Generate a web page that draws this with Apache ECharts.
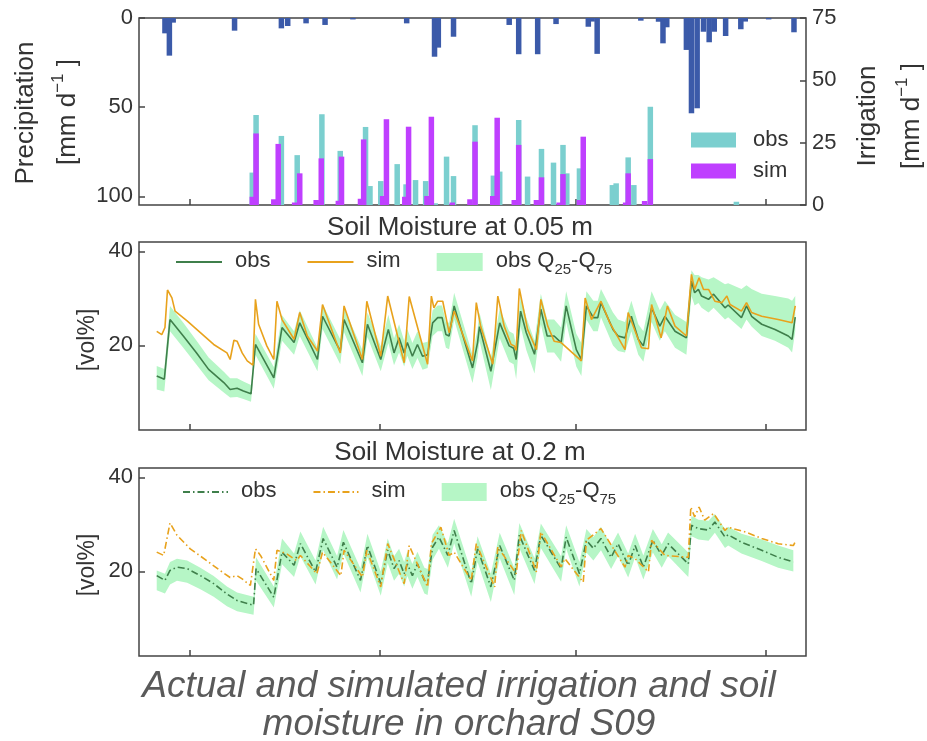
<!DOCTYPE html>
<html>
<head>
<meta charset="utf-8">
<title>Irrigation and soil moisture, orchard S09</title>
<script src="https://cdn.jsdelivr.net/npm/echarts@6/dist/echarts.min.js"></script>
<style>
  html, body { margin: 0; padding: 0; background: #fff; }
  #chart { width: 927px; height: 741px; }
</style>
</head>
<body>
<div id="chart"></div>
<script>
// x = day index counted from the left frame
var xTicks = [8, 38, 69, 99];

// precipitation [mm d-1], left axis (inverted)
var precipDays = [4.1, 4.8, 5.4, 15.1, 22.5, 23.5, 26.4, 29.4, 33.8, 42.3, 46.7, 47.3, 49.7, 58.5, 60.0, 63.0, 65.9, 71.0, 71.6, 72.4,
  79.3, 82.1, 82.8, 83.4, 86.5, 87.3, 88.2, 89.2, 90.1, 90.9, 92.7, 95.1, 95.8, 99.5, 103.5];
var precipVals = [8.6, 21.1, 2.6, 7.1, 5.8, 4.5, 3.0, 3.9, 0.8, 3.0, 21.7, 16.6, 10.5, 3.9, 20.3, 20.3, 3.4, 4.9, 2.0, 20.1,
  1.5, 2.1, 14.2, 5.2, 17.9, 53.4, 50.6, 7.7, 13.6, 7.7, 10.1, 6.3, 2.0, 0.8, 8.0];

// irrigation [mm d-1], right axis
var irrObsDays = [17.9, 18.5, 22.5, 25.0, 28.9, 31.8, 35.8, 36.5, 38.2, 40.8, 42.2, 43.7, 45.3, 46.8, 48.6, 49.7,
  53.1, 56.0, 57.0, 60.0, 61.4, 63.6, 65.5, 67.0, 67.6, 69.6, 74.8, 75.4, 77.3, 78.2, 80.8, 94.4];
var irrObsVals = [13.0, 36.1, 27.7, 20.0, 36.4, 21.7, 31.3, 7.6, 9.6, 16.4, 8.3, 10.0, 9.6, 0.7, 19.4, 11.6,
  32.0, 11.8, 13.4, 34.1, 11.4, 22.5, 17.0, 24.1, 12.7, 14.7, 8.0, 8.7, 19.1, 8.0, 39.4, 1.3];
var irrSimDays = [17.9, 18.5, 21.3, 22.0, 24.6, 25.4, 28.0, 28.8, 31.5, 32.0, 35.0, 35.5, 38.5, 39.1, 42.0, 42.6, 45.5, 46.2,
  49.5, 52.3, 53.1, 55.9, 56.6, 59.3, 60.0, 62.8, 63.6, 66.4, 67.0, 69.6, 70.2, 76.9, 77.3, 79.9, 80.8];
var irrSimVals = [3.3, 28.7, 2.3, 24.5, 1.0, 12.7, 2.0, 18.7, 1.7, 19.4, 2.5, 26.3, 3.6, 34.4, 3.3, 31.4, 3.6, 35.4,
  1.0, 2.3, 25.4, 3.6, 35.0, 2.0, 24.1, 2.0, 11.1, 1.0, 12.4, 2.0, 27.4, 1.0, 12.7, 1.6, 18.4];

// soil moisture at 0.05 m [vol%]
var obsDays05 = [2.8, 4.0, 4.9, 7.0, 9.1, 11.0, 13.4, 14.4, 15.5, 16.5, 17.7, 18.4, 21.3, 22.6, 24.5, 25.4, 28.2, 29.0, 31.8, 32.4,
  35.3, 36.1, 38.2, 39.4, 40.3, 41.1, 41.9, 42.4, 43.2, 44.0, 44.8, 45.6, 46.4, 47.2, 47.9, 48.5, 49.0, 49.8, 52.7, 53.5,
  53.8, 55.6, 57.0, 58.5, 59.2, 59.6, 60.3, 61.2, 62.5, 63.5, 64.5, 65.6, 66.7, 67.5, 69.1, 69.9, 70.7, 71.8, 72.5, 73.0,
  74.9, 75.7, 76.8, 77.8, 78.9, 79.7, 81.0, 82.3, 83.1, 84.7, 86.5, 87.3, 87.8, 88.4, 88.9, 90.0, 90.8, 92.6, 93.1, 95.2,
  96.0, 96.8, 98.4, 100.5, 102.6, 103.2, 103.7];
var obs05 = [13.5, 12.8, 25.5, 22.0, 18.4, 14.9, 12.1, 10.6, 10.9, 10.3, 9.7, 20.2, 13.1, 23.8, 20.6, 24.8, 17.0, 26.2, 18.8, 25.5,
  16.3, 24.5, 17.0, 23.4, 18.4, 21.6, 18.4, 20.6, 17.7, 20.2, 17.7, 18.0, 24.8, 25.9, 25.9, 22.3, 22.0, 28.4, 15.2, 20.6,
  24.0, 14.5, 24.8, 19.9, 19.4, 17.0, 27.3, 22.7, 18.1, 27.7, 22.0, 22.0, 20.6, 28.4, 19.1, 17.0, 28.4, 25.9, 25.9, 29.1,
  23.4, 22.0, 21.6, 26.2, 21.3, 19.9, 28.0, 24.1, 26.2, 23.0, 21.6, 33.7, 31.2, 31.9, 30.5, 29.8, 30.9, 28.0, 28.6, 25.9,
  28.4, 26.2, 24.5, 23.4, 22.0, 21.3, 26.0];
var q25_05 = [10.6, 10.2, 23.0, 19.5, 15.9, 12.6, 10.0, 8.9, 9.0, 8.6, 8.0, 18.0, 10.8, 21.0, 18.0, 22.0, 14.5, 23.5, 16.0, 22.8,
  13.5, 21.8, 14.5, 20.5, 15.8, 18.5, 15.5, 17.8, 15.0, 17.3, 14.8, 15.2, 22.0, 23.0, 23.0, 19.5, 19.2, 25.5, 12.0, 17.5,
  21.0, 10.5, 21.5, 16.5, 16.0, 12.8, 24.0, 19.0, 14.0, 24.5, 18.5, 18.5, 16.5, 25.0, 15.5, 13.5, 25.5, 23.0, 23.0, 26.0,
  20.0, 18.8, 18.5, 23.0, 18.0, 16.5, 25.0, 21.0, 23.0, 19.5, 18.0, 30.5, 28.5, 29.0, 28.0, 27.0, 28.0, 25.5, 26.0, 23.5,
  25.5, 24.0, 22.0, 21.0, 19.5, 18.5, 23.0];
var q75_05 = [15.6, 15.0, 28.4, 24.8, 21.0, 17.4, 14.4, 13.0, 13.0, 12.3, 11.6, 22.5, 15.4, 26.4, 23.0, 27.5, 19.5, 28.8, 21.3, 28.0,
  19.0, 27.0, 19.8, 26.5, 21.5, 24.5, 21.0, 23.5, 20.5, 23.0, 20.5, 20.8, 27.5, 28.5, 28.5, 25.0, 24.8, 31.2, 18.0, 23.5,
  27.0, 17.5, 27.8, 23.0, 22.5, 20.0, 30.5, 26.0, 21.0, 31.0, 25.5, 25.5, 23.8, 31.5, 22.5, 20.5, 31.5, 29.5, 29.5, 32.0,
  27.0, 25.5, 25.0, 29.5, 24.5, 23.0, 31.5, 27.5, 29.5, 26.5, 25.0, 36.0, 35.0, 35.0, 34.5, 34.0, 34.5, 33.0, 33.2, 32.0,
  32.8, 32.0, 31.0, 30.5, 30.0, 29.5, 30.5];
var simDays05 = [2.8, 3.6, 4.1, 4.5, 5.2, 5.7, 7.6, 9.7, 11.8, 13.9, 14.4, 15.0, 15.5, 16.3, 17.1, 18.0, 18.4, 18.9, 20.2, 21.3,
  21.8, 22.6, 24.5, 25.4, 26.6, 28.2, 29.0, 31.8, 32.4, 35.3, 36.0, 38.2, 39.3, 41.9, 42.7, 45.6, 46.2, 46.6, 47.2, 48.0,
  49.0, 49.8, 52.7, 53.3, 54.0, 55.9, 56.7, 57.7, 58.8, 59.3, 59.6, 60.1, 61.4, 62.8, 63.5, 64.6, 65.6, 66.7, 69.9, 70.5,
  71.5, 73.0, 74.4, 76.8, 77.3, 78.3, 79.4, 80.5, 81.0, 82.5, 83.5, 84.7, 86.5, 87.3, 87.8, 88.5, 89.2, 90.0, 91.0, 92.1,
  92.9, 93.4, 95.2, 96.0, 96.8, 98.4, 101.0, 103.2, 103.7];
var sim05 = [23.0, 22.3, 23.8, 31.8, 30.1, 27.3, 25.2, 22.7, 20.2, 18.4, 17.0, 21.1, 20.9, 18.4, 16.7, 15.8, 29.8, 24.5, 19.9, 17.0,
  29.4, 25.5, 21.3, 27.0, 22.0, 18.8, 28.7, 18.4, 28.4, 17.0, 29.4, 17.7, 30.5, 16.3, 30.4, 16.0, 30.5, 28.0, 29.4, 29.4,
  22.7, 27.3, 16.7, 29.1, 24.0, 16.0, 30.5, 24.1, 20.2, 19.9, 18.9, 32.1, 23.4, 19.1, 29.8, 24.1, 20.9, 20.6, 16.7, 30.1,
  25.5, 29.4, 24.8, 19.1, 27.0, 23.4, 19.5, 19.3, 28.7, 21.6, 28.4, 24.1, 22.0, 35.1, 31.9, 34.4, 31.9, 31.9, 29.4, 29.1,
  30.5, 28.7, 27.3, 29.1, 27.0, 26.2, 25.5, 24.8, 28.4];

// soil moisture at 0.2 m [vol%]
var obsDays20 = [2.8, 4.1, 4.9, 6.0, 7.6, 9.7, 11.8, 13.9, 15.5, 18.1, 18.5, 21.3, 22.6, 24.5, 25.5, 27.9, 29.1, 31.3, 32.3, 35.0,
  36.1, 38.2, 39.3, 40.3, 41.1, 41.9, 42.4, 43.2, 44.0, 45.1, 45.6, 46.4, 47.4, 48.8, 49.8, 52.5, 53.5, 55.6, 57.0, 59.3,
  60.1, 62.5, 63.5, 66.7, 67.5, 69.6, 70.7, 71.8, 73.0, 74.6, 75.7, 77.3, 78.4, 79.7, 81.2, 82.6, 83.6, 86.8, 87.3, 88.4,
  90.0, 91.0, 92.6, 93.1, 95.2, 98.4, 101.0, 103.4];
var obs20 = [19.1, 18.1, 20.2, 20.9, 20.6, 19.1, 17.4, 15.2, 13.8, 12.8, 20.6, 14.5, 24.1, 21.3, 25.9, 19.9, 27.0, 20.9, 26.2, 18.1,
  25.5, 17.4, 24.5, 20.6, 22.3, 19.5, 21.6, 19.1, 21.6, 18.1, 17.8, 25.2, 27.3, 23.4, 28.7, 17.4, 24.8, 16.7, 25.5, 18.1,
  27.7, 20.2, 27.7, 20.6, 27.3, 19.5, 26.6, 24.9, 27.0, 23.0, 25.9, 21.3, 25.5, 20.9, 26.6, 23.4, 25.9, 21.6, 29.8, 29.1,
  28.8, 30.5, 27.3, 27.8, 26.2, 24.5, 23.0, 22.0];
var q25_20 = [16.0, 15.3, 17.2, 18.0, 17.6, 16.2, 14.6, 12.6, 11.5, 10.8, 18.0, 12.3, 21.5, 18.8, 23.2, 17.2, 24.5, 18.3, 23.8, 15.5,
  23.0, 14.8, 21.8, 18.0, 19.5, 16.8, 19.0, 16.3, 18.8, 15.3, 15.0, 22.5, 24.8, 20.8, 26.0, 14.6, 22.0, 13.5, 22.8, 15.0,
  25.0, 17.3, 25.0, 17.8, 24.8, 16.8, 24.0, 22.3, 24.5, 20.5, 23.3, 18.7, 23.0, 18.3, 24.0, 20.8, 23.3, 18.8, 27.5, 26.8,
  26.5, 28.2, 25.0, 25.5, 23.8, 22.2, 20.8, 20.0];
var q75_20 = [20.2, 19.5, 22.0, 22.7, 22.3, 20.8, 19.0, 16.8, 15.5, 14.6, 23.0, 16.8, 27.0, 23.8, 28.5, 22.3, 29.5, 23.3, 28.8, 20.6,
  28.0, 20.0, 27.0, 23.2, 24.8, 22.0, 24.2, 21.6, 24.2, 20.8, 20.5, 27.8, 29.8, 26.0, 31.2, 20.0, 27.5, 19.5, 28.2, 20.8,
  30.3, 22.8, 30.2, 23.2, 29.8, 22.0, 29.0, 27.3, 29.5, 25.5, 28.3, 23.8, 28.0, 23.4, 29.0, 25.8, 28.3, 24.0, 31.8, 31.0,
  30.8, 32.2, 29.0, 29.5, 28.0, 26.8, 25.5, 24.5];
var simDays20 = [2.8, 3.9, 4.9, 6.0, 8.1, 10.7, 12.8, 14.4, 15.5, 16.3, 17.6, 18.4, 19.2, 21.3, 21.8, 23.3, 24.9, 25.5, 28.1, 29.0,
  31.9, 32.4, 35.3, 36.0, 38.2, 39.3, 41.9, 42.7, 45.6, 46.2, 47.7, 49.0, 49.8, 52.5, 53.3, 56.2, 56.7, 59.6, 60.4, 62.8,
  63.5, 66.7, 67.3, 70.2, 70.7, 73.0, 76.8, 77.3, 78.4, 80.5, 81.0, 83.1, 86.8, 87.2, 87.8, 88.5, 89.4, 90.8, 92.6, 93.1,
  95.8, 98.4, 101.0, 103.4, 103.8];
var sim20 = [24.1, 23.4, 30.3, 27.7, 24.8, 22.3, 20.2, 18.7, 19.1, 18.4, 17.0, 24.8, 23.4, 18.1, 24.5, 23.8, 22.3, 23.4, 19.5, 24.1,
  19.1, 24.5, 18.8, 24.5, 16.7, 25.9, 17.4, 25.5, 16.7, 25.9, 29.4, 23.4, 24.1, 18.1, 25.9, 16.7, 25.2, 19.5, 28.7, 19.9,
  28.4, 21.0, 22.7, 17.7, 26.6, 29.1, 20.9, 23.4, 22.7, 19.9, 26.6, 23.4, 23.0, 33.7, 31.6, 33.7, 30.9, 32.3, 28.7, 29.4,
  28.4, 27.0, 25.9, 25.5, 26.6];

var FONT = '"Liberation Sans", Arial, Helvetica, sans-serif';
var TXT = '#333333';
var FRAME = '#444444';
var C_PRECIP = '#3b5aa9', C_IOBS = '#7bcfcf', C_ISIM = '#bf3fff';
var C_OBS = '#3f7f4b', C_SIM = '#e8a21c', C_BAND = '#b6f6c6';
var DASHDOT = [7, 3, 1.5, 3];

function zip(xs, ys) {
  return xs.map(function (x, i) { return [x, ys[i]]; });
}

var tickStyle = { show: true, inside: true, length: 6, lineStyle: { color: FRAME, width: 1.5 } };
var labelStyle = { fontFamily: FONT, fontSize: 22, color: TXT, margin: 6 };

function xAxisFor(g) {
  return {
    type: 'value', gridIndex: g, min: 0, max: 105.4, position: 'bottom',
    axisLine: { show: false, onZero: false }, splitLine: { show: false },
    axisLabel: { show: false },
    axisTick: Object.assign({ customValues: xTicks }, tickStyle)
  };
}
function yAxisFor(g, opts) {
  return Object.assign({
    type: 'value', gridIndex: g,
    axisLine: { show: false, onZero: false }, splitLine: { show: false },
    axisLabel: Object.assign({ customValues: opts.ticks }, labelStyle),
    axisTick: Object.assign({ customValues: opts.ticks }, tickStyle)
  }, opts.axis);
}

function lineSeries(name, xi, yi, data, color, dashed) {
  return {
    name: name, type: 'line', xAxisIndex: xi, yAxisIndex: yi, data: data,
    symbol: 'none', smooth: false, silent: true, z: 3,
    itemStyle: { color: color },
    lineStyle: { color: color, width: 1.6, type: dashed ? DASHDOT : 'solid' }
  };
}
// interquartile band: one polygon through the Q75 points and back along the Q25 points
function bandSeries(name, xi, yi, days, lo, hi) {
  return {
    name: name, type: 'custom', xAxisIndex: xi, yAxisIndex: yi, silent: true, z: 2, clip: true,
    data: days.map(function (d, i) { return [d, lo[i], hi[i]]; }),
    encode: { x: 0, y: [1, 2] },
    itemStyle: { color: C_BAND },
    renderItem: function (params, api) {
      if (params.dataIndexInside !== 0) return null;
      var n = params.dataInsideLength, up = [], dn = [];
      for (var i = 0; i < n; i++) {
        up.push(api.coord([api.value(0, i), api.value(2, i)]));
        dn.push(api.coord([api.value(0, i), api.value(1, i)]));
      }
      return {
        type: 'polygon',
        shape: { points: up.concat(dn.reverse()) },
        style: { fill: C_BAND, stroke: null }
      };
    }
  };
}

var legendRich = {
  t: { fontFamily: FONT, fontSize: 22, color: TXT, lineHeight: 24, verticalAlign: 'top' },
  s: { fontFamily: FONT, fontSize: 15, color: TXT, lineHeight: 15, padding: [12, 0, 0, 0], verticalAlign: 'top' }
};
function legendText(name) {
  if (name.indexOf('band') === 0) return '{t|obs Q}{s|25}{t|-Q}{s|75}';
  return '{t|' + name.split(' ')[0] + '}';
}
function lineLegend(left, top, suffix, iw) {
  return {
    left: left, top: top, orient: 'horizontal', selectedMode: false,
    itemWidth: iw, itemHeight: 18, itemGap: 36,
    formatter: legendText,
    textStyle: { padding: [0, 0, 0, 8], rich: legendRich },
    data: [
      { name: 'obs ' + suffix, itemStyle: { opacity: 0 } },
      { name: 'sim ' + suffix, itemStyle: { opacity: 0 } },
      { name: 'band ' + suffix, icon: 'rect', itemStyle: { color: C_BAND } }
    ]
  };
}

var unitRich = {
  a: { fontFamily: FONT, fontSize: 26, fill: TXT, lineHeight: 28, verticalAlign: 'bottom' },
  s: { fontFamily: FONT, fontSize: 17, fill: TXT, lineHeight: 17, padding: [0, 0, 14, 0], verticalAlign: 'bottom' }
};
function vText(x, y, text, size, rich) {
  var style = { text: text, align: 'center', verticalAlign: 'middle', font: size + 'px ' + FONT, fill: TXT };
  if (rich) style.rich = unitRich;
  return { type: 'text', x: x, y: y, rotation: Math.PI / 2, silent: true, style: style };
}
function hText(x, y, text, size, italic, color) {
  return {
    type: 'text', x: x, y: y, silent: true,
    style: {
      text: text, align: 'center', verticalAlign: 'middle',
      font: (italic ? 'italic ' : '') + size + 'px ' + FONT, fill: color || TXT
    }
  };
}

var chart = echarts.init(document.getElementById('chart'), null, { renderer: 'canvas' });

var option = {
  backgroundColor: '#ffffff',
  animation: false,
  grid: [
    { left: 139, top: 18, width: 667, height: 187, show: true, borderColor: FRAME, borderWidth: 1.5, backgroundColor: 'transparent' },
    { left: 139, top: 242, width: 667, height: 188, show: true, borderColor: FRAME, borderWidth: 1.5, backgroundColor: 'transparent' },
    { left: 139, top: 468, width: 667, height: 188, show: true, borderColor: FRAME, borderWidth: 1.5, backgroundColor: 'transparent' }
  ],
  xAxis: [xAxisFor(0), xAxisFor(1), xAxisFor(2)],
  yAxis: [
    yAxisFor(0, { ticks: [0, 25, 50, 75], axis: { min: 0, max: 75, position: 'right' } }),
    yAxisFor(0, { ticks: [0, 50, 100], axis: { inverse: true, min: 0, max: 104.8, position: 'left' } }),
    yAxisFor(1, { ticks: [20, 40], axis: { min: 2, max: 42, position: 'left' } }),
    yAxisFor(2, { ticks: [20, 40], axis: { min: 2, max: 42, position: 'left' } })
  ],
  legend: [
    {
      left: 686, top: 124, orient: 'vertical', selectedMode: false,
      itemWidth: 45, itemHeight: 15, itemGap: 9, icon: 'rect',
      textStyle: { fontFamily: FONT, fontSize: 22, color: TXT, padding: [0, 0, 0, 12] },
      data: ['obs', 'sim']
    },
    lineLegend(170, 245, '0.05', 46),
    lineLegend(177, 475, '0.2', 45)
  ],
  graphic: [
    vText(26, 113, 'Precipitation', 26),
    vText(67, 112, '{a|[mm d}{s|\u22121}{a| ]}', 26, true),
    vText(868, 116, 'Irrigation', 26),
    vText(911, 116, '{a|[mm d}{s|\u22121}{a| ]}', 26, true),
    vText(88, 340, '[vol%]', 23),
    vText(88, 565, '[vol%]', 23),
    hText(460, 228, 'Soil Moisture at 0.05 m', 26),
    hText(460, 453, 'Soil Moisture at 0.2 m', 26),
    hText(459, 687, 'Actual and simulated irrigation and soil', 37, true, '#5a5a5a'),
    hText(459, 725, 'moisture in orchard S09', 37, true, '#5a5a5a')
  ],
  series: [
    {
      name: 'precip', type: 'bar', xAxisIndex: 0, yAxisIndex: 1, data: zip(precipDays, precipVals),
      barWidth: 5.5, barGap: '-100%', silent: true, itemStyle: { color: C_PRECIP }
    },
    {
      name: 'obs', type: 'bar', xAxisIndex: 0, yAxisIndex: 0, data: zip(irrObsDays, irrObsVals),
      barWidth: 5.5, barGap: '-100%', silent: true, itemStyle: { color: C_IOBS }
    },
    {
      name: 'sim', type: 'bar', xAxisIndex: 0, yAxisIndex: 0, data: zip(irrSimDays, irrSimVals),
      barWidth: 5.5, barGap: '-100%', silent: true, itemStyle: { color: C_ISIM }
    },
    bandSeries('band 0.05', 1, 2, obsDays05, q25_05, q75_05),
    lineSeries('obs 0.05', 1, 2, zip(obsDays05, obs05), C_OBS, false),
    lineSeries('sim 0.05', 1, 2, zip(simDays05, sim05), C_SIM, false),
    bandSeries('band 0.2', 2, 3, obsDays20, q25_20, q75_20),
    lineSeries('obs 0.2', 2, 3, zip(obsDays20, obs20), C_OBS, true),
    lineSeries('sim 0.2', 2, 3, zip(simDays20, sim20), C_SIM, true)
  ]
};

chart.setOption(option);
</script>
</body>
</html>
